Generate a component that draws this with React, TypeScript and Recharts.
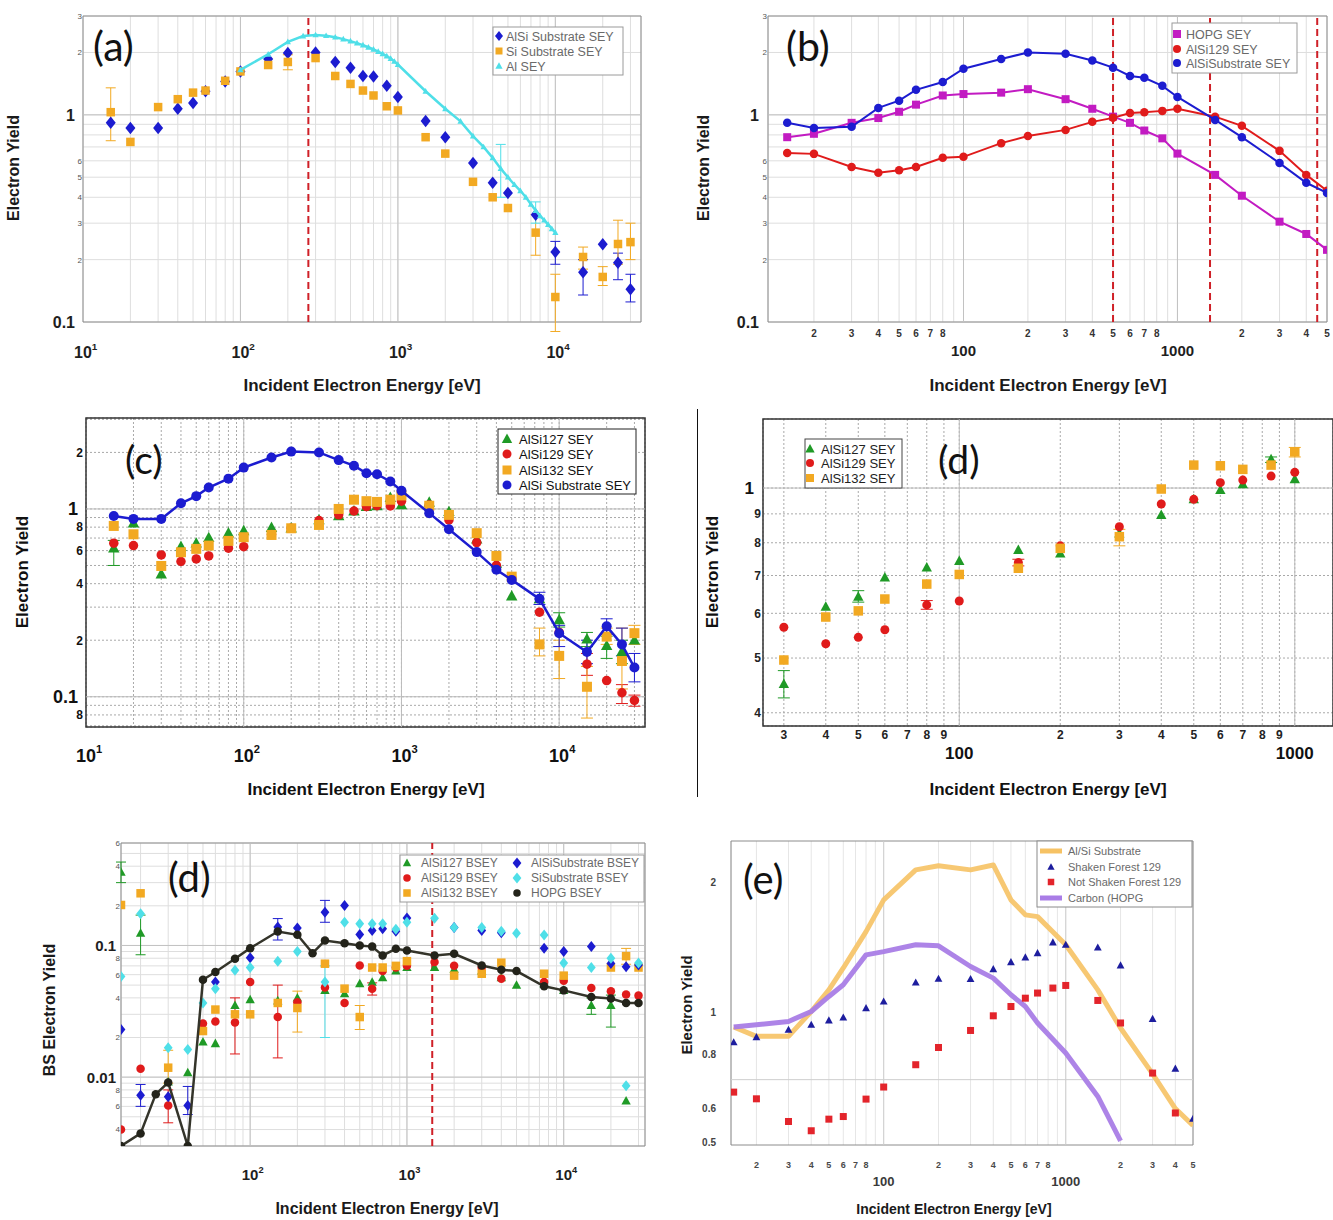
import React from 'react';
import { ScatterChart, Scatter, XAxis, YAxis, CartesianGrid, ReferenceLine, ReferenceArea, ErrorBar } from 'recharts';

const SANS = '"Liberation Sans", Arial, Helvetica, sans-serif';
const CAL = 'Lato, "Open Sans", sans-serif';

const BLUE = '#1c1cd0';
const ORANGE = '#f2a922';
const CYAN = '#4fdfe8';
const MAGENTA = '#c21bc2';
const RED = '#e01b1b';
const GREEN = '#1f9a26';
const DARK = '#23231a';
const DASHRED = '#cf2027';

// ---------------- (a) ----------------
const aEnergy = [15, 20, 30, 40, 50, 60, 80, 100, 150, 200, 300, 400, 500, 600, 700, 850, 1000, 1500, 2000, 3000, 4000, 5000, 7500, 10000, 15000, 20000, 25000, 30000];
const aAlSiSubstrate = [0.915, 0.865, 0.865, 1.07, 1.14, 1.3, 1.45, 1.62, 1.86, 1.99, 2.0, 1.8, 1.69, 1.54, 1.53, 1.38, 1.22, 0.935, 0.78, 0.586, 0.47, 0.42, 0.329, 0.218, 0.174, 0.237, 0.193, 0.144];
const aSiSubstrate = [1.03, 0.74, 1.09, 1.19, 1.28, 1.31, 1.46, 1.62, 1.74, 1.8, 1.88, 1.54, 1.41, 1.31, 1.24, 1.1, 1.05, 0.78, 0.65, 0.475, 0.4, 0.355, 0.27, 0.132, 0.206, 0.165, 0.238, 0.243];
const aAlEnergy = [100, 150, 200, 250, 300, 350, 400, 450, 500, 550, 600, 650, 700, 750, 800, 850, 900, 950, 1000, 1500, 2000, 2500, 3000, 3500, 4000, 4500, 5000, 5500, 6000, 6500, 7000, 7500, 8000, 8500, 9000, 9500, 10000];
const aAl = [1.65, 1.96, 2.25, 2.4, 2.43, 2.41, 2.37, 2.32, 2.27, 2.22, 2.17, 2.12, 2.07, 2.02, 1.97, 1.92, 1.87, 1.81, 1.75, 1.3, 1.07, 0.93, 0.79, 0.7, 0.62, 0.55, 0.5, 0.46, 0.43, 0.4, 0.37, 0.345, 0.325, 0.31, 0.295, 0.282, 0.27];
const aAlSiErr: [number, number, number][] = [[10000, 0.19, 0.245], [15000, 0.135, 0.2], [25000, 0.16, 0.215], [30000, 0.125, 0.17]];
const aSiErr: [number, number, number][] = [[15, 0.75, 1.35], [200, 1.65, 1.95], [7500, 0.21, 0.33], [10000, 0.09, 0.17], [15000, 0.18, 0.23], [20000, 0.15, 0.185], [25000, 0.19, 0.31], [30000, 0.2, 0.3]];
const aAlErr: [number, number, number][] = [[4500, 0.4, 0.72], [7500, 0.3, 0.38]];
const aDashed = [270];
const aXLabels: [number, string][] = [[10, '10^1'], [100, '10^2'], [1000, '10^3'], [10000, '10^4']];
const aYLabels: [number, string][] = [[3, '3'], [2, '2'], [1, '1'], [0.6, '6'], [0.5, '5'], [0.4, '4'], [0.3, '3'], [0.2, '2'], [0.1, '0.1']];

// ---------------- (b) ----------------
const bEnergy = [15, 20, 30, 40, 50, 60, 80, 100, 150, 200, 300, 400, 500, 600, 700, 850, 1000, 1500, 2000, 3000, 4000, 5000];
const bHOPG = [0.78, 0.81, 0.915, 0.965, 1.035, 1.12, 1.24, 1.26, 1.28, 1.33, 1.19, 1.07, 0.98, 0.915, 0.84, 0.77, 0.65, 0.513, 0.407, 0.305, 0.266, 0.223];
const bAlSi129 = [0.655, 0.648, 0.56, 0.525, 0.54, 0.56, 0.62, 0.627, 0.73, 0.79, 0.846, 0.925, 0.967, 1.02, 1.03, 1.045, 1.07, 0.98, 0.885, 0.67, 0.513, 0.43];
const bAlSiSubstrate = [0.915, 0.865, 0.875, 1.08, 1.17, 1.32, 1.44, 1.67, 1.86, 2.0, 1.97, 1.83, 1.69, 1.54, 1.51, 1.38, 1.22, 0.945, 0.78, 0.585, 0.47, 0.42];
const bDashed = [500, 1420, 4500];
const bXLabels: [number, string][] = [[20, '2'], [30, '3'], [40, '4'], [50, '5'], [60, '6'], [70, '7'], [80, '8'], [100, '100'], [200, '2'], [300, '3'], [400, '4'], [500, '5'], [600, '6'], [700, '7'], [800, '8'], [1000, '1000'], [2000, '2'], [3000, '3'], [4000, '4'], [5000, '5']];
const bYLabels = aYLabels;

// ---------------- (c) ----------------
const cEnergy = aEnergy;
const cAlSi127 = [0.618, 0.84, 0.45, 0.63, 0.657, 0.703, 0.743, 0.764, 0.796, 0.79, 0.874, 0.918, 0.975, 1.03, 1.04, 1.15, 1.05, 1.085, 0.967, 0.69, 0.514, 0.344, 0.332, 0.257, 0.203, 0.187, 0.174, 0.2];
const cAlSi129 = [0.657, 0.638, 0.569, 0.525, 0.542, 0.562, 0.618, 0.63, 0.73, 0.79, 0.867, 0.93, 0.975, 1.03, 1.04, 1.037, 1.1, 1.05, 0.874, 0.662, 0.5, 0.43, 0.282, 0.22, 0.149, 0.122, 0.105, 0.0956];
const cAlSi132 = [0.812, 0.733, 0.497, 0.588, 0.613, 0.638, 0.676, 0.707, 0.727, 0.789, 0.822, 1.0, 1.12, 1.1, 1.09, 1.12, 1.18, 1.04, 0.93, 0.743, 0.562, 0.436, 0.19, 0.165, 0.113, 0.209, 0.155, 0.218];
const cAlSiSubstrate = [0.918, 0.885, 0.885, 1.072, 1.17, 1.3, 1.45, 1.66, 1.88, 2.02, 2.0, 1.82, 1.7, 1.55, 1.53, 1.4, 1.25, 0.95, 0.78, 0.589, 0.474, 0.419, 0.332, 0.218, 0.173, 0.237, 0.19, 0.143];
const c127Err: [number, number, number][] = [[15, 0.5, 0.68], [10000, 0.235, 0.28], [15000, 0.185, 0.22], [20000, 0.16, 0.21], [25000, 0.15, 0.2]];
const c129Err: [number, number, number][] = [[15000, 0.13, 0.17], [25000, 0.092, 0.116], [30000, 0.089, 0.102]];
const c132Err: [number, number, number][] = [[7500, 0.165, 0.232], [10000, 0.125, 0.2], [15000, 0.077, 0.145], [20000, 0.19, 0.232], [25000, 0.11, 0.232], [30000, 0.19, 0.24]];
const cSubErr: [number, number, number][] = [[7500, 0.31, 0.36], [10000, 0.185, 0.24], [15000, 0.15, 0.2], [20000, 0.215, 0.26], [25000, 0.165, 0.232], [30000, 0.12, 0.17]];
const cXLabels = aXLabels;
const cYLabels: [number, string][] = [[2, '2'], [1, '1'], [0.8, '8'], [0.6, '6'], [0.4, '4'], [0.2, '2'], [0.1, '0.1'], [0.08, '8']];

// ---------------- (d) upper ----------------
const dEnergy = [30, 40, 50, 60, 80, 100, 150, 200, 300, 400, 500, 600, 700, 850, 1000];
const dAlSi127 = [0.45, 0.616, 0.642, 0.694, 0.723, 0.743, 0.777, 0.766, 0.831, 0.896, 0.955, 0.992, 1.015, 1.124, 1.036];
const dAlSi129 = [0.567, 0.53, 0.544, 0.561, 0.621, 0.631, 0.738, 0.79, 0.854, 0.937, 0.955, 1.022, 1.033, 1.05, 1.066];
const dAlSi132 = [0.496, 0.591, 0.606, 0.636, 0.676, 0.703, 0.721, 0.782, 0.82, 0.996, 1.098, 1.095, 1.079, 1.098, 1.159];
const d127Err: [number, number, number][] = [[30, 0.425, 0.475], [50, 0.628, 0.658], [850, 1.11, 1.135]];
const d132Err: [number, number, number][] = [[300, 0.79, 0.845], [1000, 1.135, 1.18]];
const d129Err: [number, number, number][] = [[80, 0.61, 0.632], [150, 0.728, 0.748]];
const dXLabels: [number, string][] = [[30, '3'], [40, '4'], [50, '5'], [60, '6'], [70, '7'], [80, '8'], [90, '9'], [100, '100'], [200, '2'], [300, '3'], [400, '4'], [500, '5'], [600, '6'], [700, '7'], [800, '8'], [900, '9'], [1000, '1000']];
const dYLabels: [number, string][] = [[1, '1'], [0.9, '9'], [0.8, '8'], [0.7, '7'], [0.6, '6'], [0.5, '5'], [0.4, '4']];

// ---------------- (d) lower : BSEY ----------------
const eHOPGEnergy = [15, 20, 25, 30, 40, 50, 60, 80, 100, 150, 200, 250, 300, 400, 500, 600, 700, 850, 1000, 1500, 2000, 3000, 4000, 5000, 7500, 10000, 15000, 20000, 25000, 30000];
const eHOPG = [0.003, 0.00374, 0.00743, 0.0091, 0.003, 0.055, 0.0628, 0.0792, 0.0954, 0.1277, 0.1205, 0.0874, 0.109, 0.104, 0.1, 0.098, 0.084, 0.0944, 0.0917, 0.084, 0.0865, 0.0705, 0.0654, 0.0639, 0.049, 0.0456, 0.0406, 0.0395, 0.0366, 0.0366];
const eSubEnergy = [15, 20, 30, 40, 60, 100, 150, 200, 300, 400, 500, 600, 700, 850, 1000, 2000, 3000, 4000, 7500, 10000, 15000, 20000, 25000, 30000];
const eAlSiSubstrate = [0.023, 0.0073, 0.0071, 0.0061, 0.0527, 0.0807, 0.138, 0.136, 0.179, 0.201, 0.121, 0.13, 0.134, 0.128, 0.162, 0.137, 0.13, 0.125, 0.0954, 0.09, 0.098, 0.073, 0.069, 0.071];
const eSiEnergy = [15, 20, 30, 40, 50, 60, 80, 100, 150, 200, 300, 400, 500, 600, 700, 850, 1000, 1500, 2000, 3000, 4000, 5000, 7500, 10000, 15000, 20000, 25000, 30000];
const eSiSubstrate = [0.058, 0.174, 0.0167, 0.0162, 0.0366, 0.047, 0.0647, 0.068, 0.076, 0.09, 0.0527, 0.15, 0.146, 0.146, 0.146, 0.133, 0.15, 0.161, 0.137, 0.137, 0.128, 0.124, 0.12, 0.0735, 0.068, 0.08, 0.0086, 0.0735];
const e127Energy = [15, 20, 30, 40, 50, 60, 80, 100, 150, 200, 300, 400, 500, 600, 700, 850, 1000, 1500, 2000, 3000, 4000, 5000, 7500, 10000, 15000, 20000, 25000];
const eAlSi127 = [0.36, 0.124, 0.0092, 0.0108, 0.0185, 0.018, 0.0351, 0.0388, 0.038, 0.04, 0.0456, 0.043, 0.0512, 0.0527, 0.057, 0.064, 0.068, 0.068, 0.066, 0.064, 0.057, 0.05, 0.051, 0.0456, 0.0351, 0.035, 0.0066];
const e129Energy = [15, 20, 30, 50, 60, 80, 100, 150, 200, 300, 400, 500, 600, 700, 850, 1000, 1500, 2000, 3000, 4000, 7500, 10000, 15000, 20000, 25000, 30000];
const eAlSi129 = [0.004, 0.0116, 0.0061, 0.0255, 0.0265, 0.026, 0.0527, 0.0286, 0.037, 0.048, 0.0366, 0.0705, 0.047, 0.064, 0.068, 0.07, 0.075, 0.07, 0.068, 0.056, 0.0527, 0.054, 0.0475, 0.045, 0.0425, 0.0416];
const e132Energy = [15, 20, 30, 50, 60, 80, 100, 150, 200, 300, 400, 500, 600, 700, 850, 1000, 2000, 3000, 4000, 7500, 10000, 20000, 25000, 30000];
const eAlSi132 = [0.203, 0.249, 0.0118, 0.0224, 0.0326, 0.03, 0.03, 0.0366, 0.0335, 0.0727, 0.047, 0.0286, 0.068, 0.068, 0.07, 0.076, 0.059, 0.061, 0.074, 0.061, 0.059, 0.068, 0.083, 0.068];
const e127Err: [number, number, number][] = [[15, 0.3, 0.43], [20, 0.085, 0.17], [20000, 0.024, 0.042], [15000, 0.03, 0.04]];
const e129Err: [number, number, number][] = [[30, 0.0045, 0.008], [80, 0.015, 0.04], [150, 0.014, 0.05], [600, 0.042, 0.052]];
const e132Err: [number, number, number][] = [[30, 0.009, 0.016], [200, 0.022, 0.045], [500, 0.023, 0.035], [25000, 0.072, 0.095]];
const eSubErr: [number, number, number][] = [[20, 0.006, 0.0088], [40, 0.0052, 0.0085], [150, 0.11, 0.16], [300, 0.15, 0.22]];
const eSiErr: [number, number, number][] = [[300, 0.02, 0.07]];
const eDashed = [1450];
const eXLabels: [number, string][] = [[100, '10^2'], [1000, '10^3'], [10000, '10^4']];
const eYLabels: [number, string][] = [[0.6, '6'], [0.4, '4'], [0.2, '2'], [0.1, '0.1'], [0.08, '8'], [0.06, '6'], [0.04, '4'], [0.02, '2'], [0.01, '0.01'], [0.008, '8'], [0.006, '6'], [0.004, '4']];

// ---------------- (e) ----------------
const fEnergy = [15, 20, 30, 40, 50, 60, 80, 100, 150, 200, 300, 400, 500, 600, 700, 850, 1000, 1500, 2000, 3000, 4000, 5000];
const fShaken = [0.854, 0.878, 0.913, 0.938, 0.96, 0.975, 1.025, 1.062, 1.175, 1.199, 1.197, 1.262, 1.31, 1.343, 1.374, 1.455, 1.437, 1.416, 1.287, 0.968, 0.742, 0.568];
const fNotShakenEnergy = [15, 20, 30, 40, 50, 60, 80, 100, 150, 200, 300, 400, 500, 600, 700, 850, 1000, 1500, 2000, 3000, 4000];
const fNotShaken = [0.655, 0.632, 0.56, 0.533, 0.567, 0.575, 0.631, 0.673, 0.758, 0.831, 0.91, 0.984, 1.034, 1.081, 1.111, 1.141, 1.157, 1.068, 0.947, 0.725, 0.586];
const fSubEnergy = [15, 20, 30, 40, 50, 60, 80, 100, 150, 200, 300, 400, 500, 600, 700, 1000, 1500, 2000, 3000, 4000, 5000];
const fSubstrate = [0.927, 0.882, 0.882, 1.007, 1.13, 1.27, 1.542, 1.826, 2.143, 2.19, 2.143, 2.2, 1.826, 1.686, 1.67, 1.437, 1.13, 0.922, 0.722, 0.6, 0.548];
const fHOPGEnergy = [15, 20, 30, 40, 50, 60, 80, 100, 150, 200, 300, 400, 500, 600, 700, 1000, 1500, 2000];
const fHOPG = [0.927, 0.938, 0.955, 1.007, 1.091, 1.161, 1.362, 1.386, 1.437, 1.429, 1.28, 1.203, 1.101, 1.034, 0.947, 0.807, 0.64, 0.505];
const fGridY = [0.7];
const fXLabels: [number, string][] = [[20, '2'], [30, '3'], [40, '4'], [50, '5'], [60, '6'], [70, '7'], [80, '8'], [100, '100'], [200, '2'], [300, '3'], [400, '4'], [500, '5'], [600, '6'], [700, '7'], [800, '8'], [1000, '1000'], [2000, '2'], [3000, '3'], [4000, '4'], [5000, '5']];
const fYLabels: [number, string][] = [[2, '2'], [1, '1'], [0.8, '0.8'], [0.6, '0.6'], [0.5, '0.5']];

// ---------------- helpers ----------------
function logTicks(lo: number, hi: number): number[] {
  const out: number[] = [];
  const d0 = Math.floor(Math.log10(lo));
  const d1 = Math.ceil(Math.log10(hi));
  for (let d = d0; d <= d1; d++) {
    for (let m = 1; m <= 9; m++) {
      const v = parseFloat((m * Math.pow(10, d)).toPrecision(4));
      if (v >= lo * 0.99999 && v <= hi * 1.00001) out.push(v);
    }
  }
  return out;
}

const keyOf = (v: number) => Number(v).toPrecision(4);
const isPow10 = (v: number) => Math.abs(Math.log10(v) - Math.round(Math.log10(v))) < 1e-6;

function pts(xs: number[], ys: number[], errs?: [number, number, number][]) {
  return xs.map((x, i) => {
    const y = ys[i];
    const e = errs ? errs.find((r) => r[0] === x) : undefined;
    if (e) return { x, y, err: [Math.max(y - e[1], 0), Math.max(e[2] - y, 0)] };
    return { x, y };
  });
}

type TickStyle = { big: number; small: number; bigDy?: number; smallDy?: number; bigGap?: number; smallGap?: number; color: string; smallColor?: string; smallWeight?: string; weight?: string };

function makeXTick(labels: [number, string][], st: TickStyle) {
  const map = new Map(labels.map(([v, t]) => [keyOf(v), t]));
  return (props: any) => {
    const { x, y, payload } = props;
    const v = Number(payload && payload.value);
    const t = map.get(keyOf(v));
    if (!t || typeof x !== 'number') return <g />;
    const big = isPow10(v) && t.length > 1;
    const fs = big ? st.big : st.small;
    const dy = big ? st.bigDy || 0 : st.smallDy || 0;
    const parts = t.split('^');
    const shift = parts[1] ? fs * 0.17 : 0;
    return (
      <text x={x + shift} y={y + dy} textAnchor="middle" fontFamily={SANS} fontSize={fs} fontWeight={big ? (st.weight || 'bold') : (st.smallWeight || st.weight || 'bold')} fill={big ? st.color : (st.smallColor || st.color)}>
        {parts[0]}
        {parts[1] ? <tspan dy={-fs * 0.48} fontSize={fs * 0.62}>{parts[1]}</tspan> : null}
      </text>
    );
  };
}

function makeYTick(labels: [number, string][], st: TickStyle) {
  const map = new Map(labels.map(([v, t]) => [keyOf(v), t]));
  return (props: any) => {
    const { x, y, payload } = props;
    const v = Number(payload && payload.value);
    const t = map.get(keyOf(v));
    if (!t || typeof y !== 'number') return <g />;
    const big = isPow10(v);
    const fs = big ? st.big : st.small;
    const gap = big ? st.bigGap || 0 : st.smallGap || 0;
    return (
      <text x={x - gap} y={y + fs * 0.36} textAnchor="end" fontFamily={SANS} fontSize={fs} fontWeight={big ? (st.weight || 'bold') : (st.smallWeight || st.weight || 'bold')} fill={big ? st.color : (st.smallColor || st.color)}>
        {t}
      </text>
    );
  };
}

function Glyph({ kind, x, y, s, fill }: { kind: string; x: number; y: number; s: number; fill: string }) {
  switch (kind) {
    case 'circle':
      return <circle cx={x} cy={y} r={s / 2} fill={fill} />;
    case 'square':
      return <rect x={x - s / 2} y={y - s / 2} width={s} height={s} fill={fill} />;
    case 'diamond':
      return <polygon points={`${x},${y - s / 2} ${x + s * 0.4},${y} ${x},${y + s / 2} ${x - s * 0.4},${y}`} fill={fill} />;
    case 'triangle':
      return <polygon points={`${x},${y - s * 0.55} ${x + s * 0.52},${y + s * 0.4} ${x - s * 0.52},${y + s * 0.4}`} fill={fill} />;
    default:
      return <g />;
  }
}

function shapeOf(kind: string, fill: string, s: number) {
  return (p: any) => {
    const cx = p && p.cx;
    const cy = p && p.cy;
    if (typeof cx !== 'number' || typeof cy !== 'number' || isNaN(cx) || isNaN(cy)) return <g />;
    return <Glyph kind={kind} x={cx} y={cy} s={s} fill={fill} />;
  };
}
const noShape = () => <g />;

function Panel(props: any) {
  const { left, top, width, height, mTop, mRight, yW, xH, xDomain, yDomain, xTicks, yTicks, xTick, yTick,
    gridStroke, gridDash, gridHorizontal, majorX, majorY, majorStroke, frame, frameWidth, children } = props;
  return (
    <div style={{ position: 'absolute', left, top, width, height }}>
      <ScatterChart width={width} height={height} margin={{ top: mTop, right: mRight, bottom: 0, left: 0 }}>
        <CartesianGrid stroke={gridStroke} strokeDasharray={gridDash} horizontal={gridHorizontal !== false} vertical={true} />
        {majorX.map((v: number) => <ReferenceLine key={'mx' + v} x={v} stroke={majorStroke} strokeWidth={1} />)}
        {majorY.map((v: number) => <ReferenceLine key={'my' + v} y={v} stroke={majorStroke} strokeWidth={1} />)}
        <XAxis type="number" dataKey="x" scale="log" domain={xDomain} allowDataOverflow ticks={xTicks} interval={0}
          tick={xTick} tickLine={false} axisLine={false} tickSize={0} tickMargin={0} height={xH} />
        <YAxis type="number" dataKey="y" scale="log" domain={yDomain} allowDataOverflow ticks={yTicks} interval={0}
          tick={yTick} tickLine={false} axisLine={false} tickSize={0} tickMargin={0} width={yW} />
        {children}
        <ReferenceArea x1={xDomain[0]} x2={xDomain[1]} y1={yDomain[0]} y2={yDomain[1]} fill="none" fillOpacity={0}
          stroke={frame} strokeWidth={frameWidth || 1} ifOverflow="visible" />
      </ScatterChart>
    </div>
  );
}

function PanelA() {
  const xd: [number, number] = [10, 35000];
  const yd: [number, number] = [0.1, 3];
  return (
    <Panel left={0} top={0} width={660} height={400} mTop={16} mRight={19} yW={83} xH={78}
      xDomain={xd} yDomain={yd} xTicks={logTicks(xd[0], xd[1])} yTicks={logTicks(yd[0], yd[1])}
      xTick={makeXTick(aXLabels, { big: 16, small: 9, bigDy: 36, color: '#1e1e1e' })}
      yTick={makeYTick(aYLabels, { big: 16, small: 8, bigGap: 8, smallGap: 1, color: '#1e1e1e', smallColor: '#555', smallWeight: 'normal' })}
      gridStroke="#dedede" majorX={[100, 1000, 10000]} majorY={[1]} majorStroke="#c2c2c2" frame="#8c8c8c">
      {[
        <Scatter key="a1" data={pts(aEnergy, aAlSiSubstrate, aAlSiErr)} shape={shapeOf('diamond', BLUE, 12.5)} isAnimationActive={false}>
          <ErrorBar dataKey="err" direction="y" width={5} stroke={BLUE} strokeWidth={1} />
        </Scatter>,
        <Scatter key="a2" data={pts(aEnergy, aSiSubstrate, aSiErr)} shape={shapeOf('square', ORANGE, 8.5)} isAnimationActive={false}>
          <ErrorBar dataKey="err" direction="y" width={5} stroke={ORANGE} strokeWidth={1} />
        </Scatter>,
        <Scatter key="a3" data={pts(aAlEnergy, aAl, aAlErr)} shape={shapeOf('triangle', CYAN, 6)} line={{ stroke: CYAN, strokeWidth: 2.5 }} lineType="joint" isAnimationActive={false}>
          <ErrorBar dataKey="err" direction="y" width={5} stroke={CYAN} strokeWidth={1} />
        </Scatter>,
        ...aDashed.map((v) => <ReferenceLine key={'ad' + v} x={v} stroke={DASHRED} strokeWidth={2} strokeDasharray="7 4" />),
      ]}
    </Panel>
  );
}

function PanelB() {
  const xd: [number, number] = [12.2, 5000];
  const yd: [number, number] = [0.1, 3];
  return (
    <Panel left={660} top={0} width={673} height={400} mTop={16} mRight={6} yW={108} xH={78}
      xDomain={xd} yDomain={yd} xTicks={logTicks(xd[0], xd[1])} yTicks={logTicks(yd[0], yd[1])}
      xTick={makeXTick(bXLabels, { big: 15, small: 10, bigDy: 34, smallDy: 15, color: '#1e1e1e', smallColor: '#333' })}
      yTick={makeYTick(bYLabels, { big: 16, small: 8, bigGap: 9, smallGap: 1, color: '#1e1e1e', smallColor: '#555', smallWeight: 'normal' })}
      gridStroke="#dedede" majorX={[100, 1000]} majorY={[1]} majorStroke="#c2c2c2" frame="#8c8c8c">
      {[
        <Scatter key="b1" data={pts(bEnergy, bHOPG)} shape={shapeOf('square', MAGENTA, 8)} line={{ stroke: MAGENTA, strokeWidth: 2 }} lineType="joint" isAnimationActive={false} />,
        <Scatter key="b2" data={pts(bEnergy, bAlSi129)} shape={shapeOf('circle', RED, 8.5)} line={{ stroke: RED, strokeWidth: 2 }} lineType="joint" isAnimationActive={false} />,
        <Scatter key="b3" data={pts(bEnergy, bAlSiSubstrate)} shape={shapeOf('circle', BLUE, 8.5)} line={{ stroke: BLUE, strokeWidth: 2 }} lineType="joint" isAnimationActive={false} />,
        ...bDashed.map((v) => <ReferenceLine key={'bd' + v} x={v} stroke={DASHRED} strokeWidth={2} strokeDasharray="7 4" />),
      ]}
    </Panel>
  );
}

function PanelC() {
  const xd: [number, number] = [10, 35000];
  const yd: [number, number] = [0.069, 3.05];
  return (
    <Panel left={0} top={400} width={660} height={410} mTop={18} mRight={15} yW={86} xH={83}
      xDomain={xd} yDomain={yd} xTicks={logTicks(xd[0], xd[1])} yTicks={logTicks(yd[0], yd[1])}
      xTick={makeXTick(cXLabels, { big: 18, small: 10, bigDy: 35, color: '#111' })}
      yTick={makeYTick(cYLabels, { big: 18, small: 12, bigGap: 8, smallGap: 3, color: '#111' })}
      gridStroke="#a9a9a9" gridDash="2 2" majorX={[100, 1000, 10000]} majorY={[1, 0.1]} majorStroke="#bcbcbc" frame="#333" frameWidth={1.5}>
      {[
        <Scatter key="c1" data={pts(cEnergy, cAlSi127, c127Err)} shape={shapeOf('triangle', GREEN, 11)} isAnimationActive={false}>
          <ErrorBar dataKey="err" direction="y" width={6} stroke={GREEN} strokeWidth={1} />
        </Scatter>,
        <Scatter key="c2" data={pts(cEnergy, cAlSi129, c129Err)} shape={shapeOf('circle', RED, 9.5)} isAnimationActive={false}>
          <ErrorBar dataKey="err" direction="y" width={6} stroke={RED} strokeWidth={1} />
        </Scatter>,
        <Scatter key="c3" data={pts(cEnergy, cAlSi132, c132Err)} shape={shapeOf('square', ORANGE, 10)} isAnimationActive={false}>
          <ErrorBar dataKey="err" direction="y" width={6} stroke={ORANGE} strokeWidth={1} />
        </Scatter>,
        <Scatter key="c4" data={pts(cEnergy, cAlSiSubstrate, cSubErr)} shape={shapeOf('circle', BLUE, 10)} line={{ stroke: BLUE, strokeWidth: 2.5 }} lineType="joint" isAnimationActive={false}>
          <ErrorBar dataKey="err" direction="y" width={6} stroke={BLUE} strokeWidth={1} />
        </Scatter>,
      ]}
    </Panel>
  );
}

function PanelD() {
  const xd: [number, number] = [26, 1300];
  const yd: [number, number] = [0.379, 1.325];
  return (
    <Panel left={697} top={400} width={636} height={410} mTop={19} mRight={0} yW={66} xH={84}
      xDomain={xd} yDomain={yd} xTicks={logTicks(xd[0], xd[1])} yTicks={logTicks(0.4, 1)}
      xTick={makeXTick(dXLabels, { big: 17, small: 12, bigDy: 33, smallDy: 13, color: '#111', smallColor: '#222' })}
      yTick={makeYTick(dYLabels, { big: 17, small: 12, bigGap: 9, smallGap: 2, color: '#111', smallColor: '#222' })}
      gridStroke="#a9a9a9" gridDash="2 2" majorX={[100, 1000]} majorY={[1]} majorStroke="#bcbcbc" frame="#333" frameWidth={1.5}>
      {[
        <Scatter key="d1" data={pts(dEnergy, dAlSi127, d127Err)} shape={shapeOf('triangle', GREEN, 10)} isAnimationActive={false}>
          <ErrorBar dataKey="err" direction="y" width={6} stroke={GREEN} strokeWidth={1} />
        </Scatter>,
        <Scatter key="d2" data={pts(dEnergy, dAlSi129, d129Err)} shape={shapeOf('circle', RED, 9)} isAnimationActive={false}>
          <ErrorBar dataKey="err" direction="y" width={6} stroke={RED} strokeWidth={1} />
        </Scatter>,
        <Scatter key="d3" data={pts(dEnergy, dAlSi132, d132Err)} shape={shapeOf('square', ORANGE, 9.5)} isAnimationActive={false}>
          <ErrorBar dataKey="err" direction="y" width={6} stroke={ORANGE} strokeWidth={1} />
        </Scatter>,
      ]}
    </Panel>
  );
}

function PanelE() {
  const xd: [number, number] = [15, 33000];
  const yd: [number, number] = [0.003, 0.6];
  return (
    <Panel left={0} top={820} width={660} height={400} mTop={23} mRight={15} yW={121} xH={74}
      xDomain={xd} yDomain={yd} xTicks={logTicks(xd[0], xd[1])} yTicks={logTicks(yd[0], yd[1])}
      xTick={makeXTick(eXLabels, { big: 15, small: 9, bigDy: 34, color: '#1e1e1e' })}
      yTick={makeYTick(eYLabels, { big: 15, small: 8, bigGap: 5, smallGap: 1, color: '#1e1e1e', smallColor: '#555', smallWeight: 'normal' })}
      gridStroke="#dedede" majorX={[100, 1000, 10000]} majorY={[0.1, 0.01]} majorStroke="#c2c2c2" frame="#8c8c8c">
      {[
        <Scatter key="e1" data={pts(e127Energy, eAlSi127, e127Err)} shape={shapeOf('triangle', GREEN, 9)} isAnimationActive={false}>
          <ErrorBar dataKey="err" direction="y" width={5} stroke={GREEN} strokeWidth={1} />
        </Scatter>,
        <Scatter key="e2" data={pts(e129Energy, eAlSi129, e129Err)} shape={shapeOf('circle', RED, 8.5)} isAnimationActive={false}>
          <ErrorBar dataKey="err" direction="y" width={5} stroke={RED} strokeWidth={1} />
        </Scatter>,
        <Scatter key="e3" data={pts(e132Energy, eAlSi132, e132Err)} shape={shapeOf('square', ORANGE, 8.5)} isAnimationActive={false}>
          <ErrorBar dataKey="err" direction="y" width={5} stroke={ORANGE} strokeWidth={1} />
        </Scatter>,
        <Scatter key="e4" data={pts(eSubEnergy, eAlSiSubstrate, eSubErr)} shape={shapeOf('diamond', BLUE, 11)} isAnimationActive={false}>
          <ErrorBar dataKey="err" direction="y" width={5} stroke={BLUE} strokeWidth={1} />
        </Scatter>,
        <Scatter key="e5" data={pts(eSiEnergy, eSiSubstrate, eSiErr)} shape={shapeOf('diamond', CYAN, 11)} isAnimationActive={false}>
          <ErrorBar dataKey="err" direction="y" width={5} stroke={CYAN} strokeWidth={1} />
        </Scatter>,
        <Scatter key="e6" data={pts(eHOPGEnergy, eHOPG)} shape={shapeOf('circle', DARK, 8.5)} line={{ stroke: '#34342a', strokeWidth: 2.5 }} lineType="joint" isAnimationActive={false} />,
        ...eDashed.map((v) => <ReferenceLine key={'ed' + v} x={v} stroke={DASHRED} strokeWidth={2} strokeDasharray="7 4" />),
      ]}
    </Panel>
  );
}

function PanelF() {
  const xd: [number, number] = [14.5, 5000];
  const yd: [number, number] = [0.494, 2.5];
  return (
    <Panel left={660} top={820} width={673} height={400} mTop={21} mRight={140} yW={71} xH={75}
      xDomain={xd} yDomain={yd} xTicks={logTicks(xd[0], xd[1])} yTicks={[0.5, 0.6, 0.8, 1, 2]}
      xTick={makeXTick(fXLabels, { big: 13, small: 9, bigDy: 41, smallDy: 23, color: '#3a3a3a', smallColor: '#4a4a4a' })}
      yTick={makeYTick(fYLabels, { big: 10, small: 10, bigGap: 15, smallGap: 15, color: '#444' })}
      gridStroke="#e6e6e6" gridHorizontal={false} majorX={[100, 1000]} majorY={fGridY} majorStroke="#cfcfcf" frame="#8c8c8c">
      {[
        <Scatter key="f1" data={pts(fSubEnergy, fSubstrate)} shape={noShape} line={{ stroke: '#f6c264', strokeWidth: 5, strokeOpacity: 0.9, strokeLinejoin: 'round' }} lineType="joint" isAnimationActive={false} />,
        <Scatter key="f2" data={pts(fHOPGEnergy, fHOPG)} shape={noShape} line={{ stroke: '#a97de6', strokeWidth: 5, strokeOpacity: 0.95, strokeLinejoin: 'round' }} lineType="joint" isAnimationActive={false} />,
        <Scatter key="f3" data={pts(fEnergy, fShaken)} shape={shapeOf('triangle', '#1d1d9e', 7.5)} isAnimationActive={false} />,
        <Scatter key="f4" data={pts(fNotShakenEnergy, fNotShaken)} shape={shapeOf('square', '#e3242b', 7)} isAnimationActive={false} />,
      ]}
    </Panel>
  );
}

type LegItem = { label: string; kind: string; color: string; s: number; line?: number; lineColor?: string };

function LegendBox({ x, y, w, h, stroke, strokeW, items, rowY, colX, textDx, fs, color, markerDx }: any) {
  return (
    <g>
      <rect x={x} y={y} width={w} height={h} fill="#fff" stroke={stroke} strokeWidth={strokeW || 1} />
      {items.map((it: LegItem, i: number) => {
        const col = Math.floor(i / rowY.length);
        const row = i % rowY.length;
        const mx = colX[col] + markerDx;
        const my = rowY[row];
        return (
          <g key={i}>
            {it.line ? <line x1={colX[col]} x2={colX[col] + 2 * markerDx} y1={my} y2={my} stroke={it.lineColor || it.color} strokeWidth={it.line} /> : null}
            <Glyph kind={it.kind} x={mx} y={my} s={it.s} fill={it.color} />
            <text x={colX[col] + textDx} y={my + fs * 0.36} fontFamily={SANS} fontSize={fs} fill={color}>{it.label}</text>
          </g>
        );
      })}
    </g>
  );
}

const legendA: LegItem[] = [
  { label: 'AlSi Substrate SEY', kind: 'diamond', color: BLUE, s: 10 },
  { label: 'Si Substrate SEY', kind: 'square', color: ORANGE, s: 7 },
  { label: 'Al SEY', kind: 'triangle', color: CYAN, s: 7 },
];
const legendB: LegItem[] = [
  { label: 'HOPG SEY', kind: 'square', color: MAGENTA, s: 8 },
  { label: 'AlSi129 SEY', kind: 'circle', color: RED, s: 8 },
  { label: 'AlSiSubstrate SEY', kind: 'circle', color: BLUE, s: 8 },
];
const legendC: LegItem[] = [
  { label: 'AlSi127 SEY', kind: 'triangle', color: GREEN, s: 10 },
  { label: 'AlSi129 SEY', kind: 'circle', color: RED, s: 9 },
  { label: 'AlSi132 SEY', kind: 'square', color: ORANGE, s: 9 },
  { label: 'AlSi Substrate SEY', kind: 'circle', color: BLUE, s: 9 },
];
const legendD: LegItem[] = [
  { label: 'AlSi127 SEY', kind: 'triangle', color: GREEN, s: 9 },
  { label: 'AlSi129 SEY', kind: 'circle', color: RED, s: 8 },
  { label: 'AlSi132 SEY', kind: 'square', color: ORANGE, s: 8 },
];
const legendE: LegItem[] = [
  { label: 'AlSi127 BSEY', kind: 'triangle', color: GREEN, s: 8 },
  { label: 'AlSi129 BSEY', kind: 'circle', color: RED, s: 7.5 },
  { label: 'AlSi132 BSEY', kind: 'square', color: ORANGE, s: 7.5 },
  { label: 'AlSiSubstrate BSEY', kind: 'diamond', color: BLUE, s: 11 },
  { label: 'SiSubstrate BSEY', kind: 'diamond', color: CYAN, s: 11 },
  { label: 'HOPG BSEY', kind: 'circle', color: DARK, s: 7.5 },
];
const legendF: LegItem[] = [
  { label: 'Al/Si Substrate', kind: 'none', color: '#f6c264', s: 0, line: 5 },
  { label: 'Shaken Forest 129', kind: 'triangle', color: '#1d1d9e', s: 7 },
  { label: 'Not Shaken Forest 129', kind: 'square', color: '#e3242b', s: 6.5 },
  { label: 'Carbon (HOPG', kind: 'none', color: '#a97de6', s: 0, line: 5 },
];

function Overlay() {
  const title = (x: number, y: number, t: string, fs: number, fill = '#1a1a1a') => (
    <text x={x} y={y} textAnchor="middle" fontFamily={SANS} fontWeight="bold" fontSize={fs} fill={fill}>{t}</text>
  );
  const vtitle = (x: number, y: number, t: string, fs: number, fill = '#1a1a1a') => (
    <text transform={`translate(${x},${y}) rotate(-90)`} textAnchor="middle" fontFamily={SANS} fontWeight="bold" fontSize={fs} fill={fill}>{t}</text>
  );
  const plab = (x: number, y: number, t: string, fs: number) => (
    <text x={x} y={y} fontFamily={CAL} fontSize={fs} fill="#111">{t}</text>
  );
  return (
    <svg width={1333} height={1220} style={{ position: 'absolute', left: 0, top: 0, pointerEvents: 'none' }}>
      {/* (a) */}
      {plab(93, 61, '(a)', 41)}
      {vtitle(19, 168, 'Electron Yield', 16)}
      {title(362, 391, 'Incident Electron Energy [eV]', 17)}
      <LegendBox x={493} y={27} w={130} h={48} stroke="#9a9a9a" items={legendA} rowY={[36, 51, 66]} colX={[494]} markerDx={5} textDx={12} fs={12.5} color="#6a6a6a" />
      {/* (b) */}
      {plab(786, 61, '(b)', 41)}
      {vtitle(709, 168, 'Electron Yield', 16)}
      {title(1048, 391, 'Incident Electron Energy [eV]', 17)}
      <LegendBox x={1172} y={23} w={125} h={50} stroke="#9a9a9a" items={legendB} rowY={[34, 49, 63]} colX={[1172]} markerDx={5} textDx={14} fs={12.5} color="#6a6a6a" />
      {/* (c) */}
      {plab(125, 474, '(c)', 39)}
      {vtitle(28, 572, 'Electron Yield', 17, '#111')}
      {title(366, 795, 'Incident Electron Energy [eV]', 17, '#111')}
      <LegendBox x={498} y={429} w={138} h={65} stroke="#222" items={legendC} rowY={[439, 454, 470, 485]} colX={[502]} markerDx={5} textDx={17} fs={13} color="#111" />
      {/* separator */}
      <line x1={697.5} x2={697.5} y1={409} y2={797} stroke="#111" strokeWidth={1} />
      {/* (d) upper */}
      {plab(938, 474, '(d)', 39)}
      {vtitle(718, 572, 'Electron Yield', 17, '#111')}
      {title(1048, 795, 'Incident Electron Energy [eV]', 17, '#111')}
      <LegendBox x={805} y={439} w={97} h={49} stroke="#444" items={legendD} rowY={[449, 463, 478]} colX={[805]} markerDx={5} textDx={16} fs={13} color="#222" />
      {/* (d) lower */}
      {plab(168, 892, '(d)', 40)}
      {vtitle(55, 1010, 'BS Electron Yield', 16)}
      {title(387, 1214, 'Incident Electron Energy [eV]', 16)}
      <LegendBox x={400} y={855} w={244} h={47} stroke="#9a9a9a" items={legendE} rowY={[863, 878, 893]} colX={[402, 512]} markerDx={5} textDx={19} fs={12} color="#6a6a6a" />
      {/* (e) */}
      {plab(743, 894, '(e)', 40)}
      {vtitle(692, 1005, 'Electron Yield', 15)}
      {title(954, 1214, 'Incident Electron Energy [eV]', 14)}
      <LegendBox x={1037} y={841} w={155} h={66} stroke="#8a8a8a" items={legendF} rowY={[851, 867, 882, 898]} colX={[1040]} markerDx={11} textDx={28} fs={11} color="#6a6a6a" />
    </svg>
  );
}

export default function App() {
  return (
    <div style={{ position: 'absolute', left: 0, top: 0, width: 1333, height: 1220, background: '#fff', overflow: 'hidden' }}>
      <PanelA />
      <PanelB />
      <PanelC />
      <PanelD />
      <PanelE />
      <PanelF />
      <Overlay />
    </div>
  );
}
